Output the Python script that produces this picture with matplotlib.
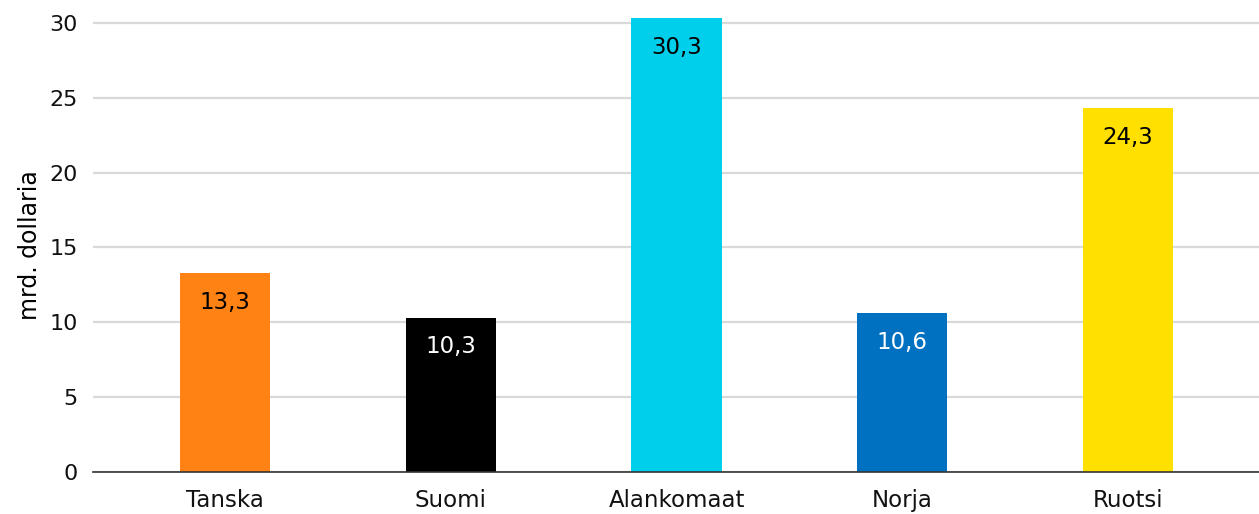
import matplotlib
matplotlib.use('Agg')
import matplotlib.pyplot as plt

countries = ['Tanska', 'Suomi', 'Alankomaat', 'Norja', 'Ruotsi']
values = [13.3, 10.3, 30.3, 10.6, 24.3]
labels = ['13,3', '10,3', '30,3', '10,6', '24,3']
colors = ['#FF8215', '#000000', '#00CFEC', '#0070C0', '#FFE000']
label_colors = ['black', 'white', 'black', 'white', 'black']
yticks = [0, 5, 10, 15, 20, 25, 30]

plt.rcParams['font.family'] = ['DejaVu Sans']
plt.rcParams['text.color'] = '#111111'

fig = plt.figure(figsize=(12.59, 5.14), dpi=100)
ax = fig.add_axes([93 / 1259, 1 - 472 / 514, 1166 / 1259, (472 - 18.4) / 514])

x = list(range(len(countries)))
bars = ax.bar(x, values, width=0.4, color=colors, zorder=3)

for b, lab, c in zip(bars, labels, label_colors):
    ax.annotate(lab, (b.get_x() + b.get_width() / 2, b.get_height()),
                xytext=(0, -21), textcoords='offset points',
                ha='center', va='center', fontsize=16.5, color=c, zorder=4)

ax.set_xlim(-0.585, 4.58)
ax.set_ylim(0, 30.3)
ax.set_yticks(yticks)
ax.set_xticks(x)
ax.set_xticklabels(countries, fontsize=16.5)
ax.tick_params(axis='both', colors='#111111')
ax.tick_params(axis='y', length=0, labelsize=16, pad=11)
ax.tick_params(axis='x', length=0, pad=12)
ax.set_ylabel('mrd. dollaria', fontsize=17, labelpad=5)
ax.grid(axis='y', color='#d9d9d9', linewidth=1.6, zorder=0)

for s in ['top', 'right', 'left']:
    ax.spines[s].set_visible(False)
ax.spines['bottom'].set_color('#333333')
ax.spines['bottom'].set_linewidth(1.2)
ax.spines['bottom'].set_zorder(5)

fig.savefig('out.png', dpi=100)
